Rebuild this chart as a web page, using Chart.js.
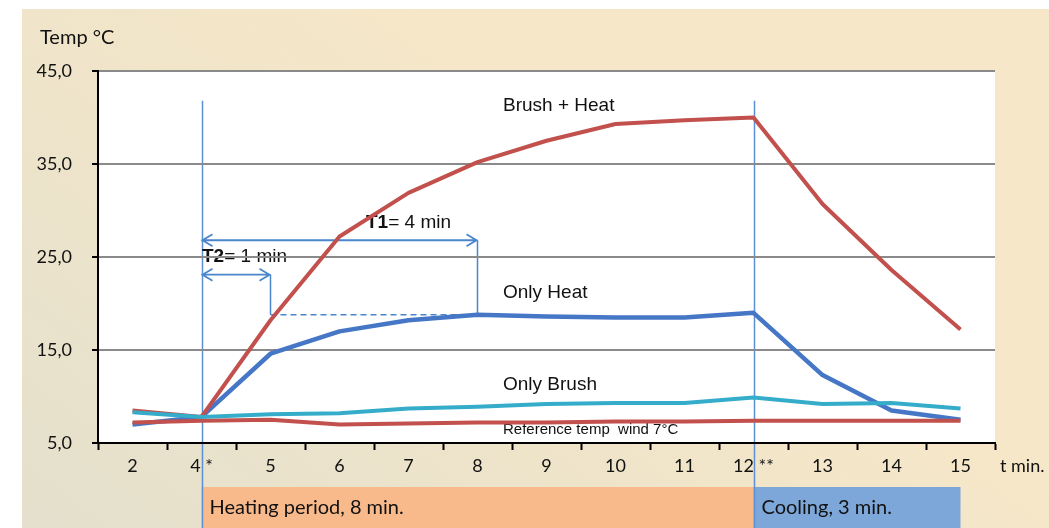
<!DOCTYPE html>
<html>
<head>
<meta charset="utf-8">
<script src="https://cdn.jsdelivr.net/npm/chart.js@4.4.0/dist/chart.umd.min.js"></script>
<style>
  html, body { margin: 0; padding: 0; background: #fff; }
  canvas { display: block; }
</style>
</head>
<body>
<canvas id="myChart" width="1049" height="528"></canvas>
<script>
// categories (minutes) and the four curves
var MINUTES = ["2","4 *","5","6","7","8","9","10","11","12 **","13","14","15"]
var BRUSH_HEAT = [8.5,7.8,18.2,27.2,31.9,35.2,37.5,39.3,39.7,40.0,30.7,23.6,17.2]
var ONLY_HEAT = [7.0,7.8,14.6,17.0,18.2,18.8,18.6,18.5,18.5,19.0,12.3,8.5,7.5]
var ONLY_BRUSH = [8.3,7.8,8.1,8.2,8.7,8.9,9.2,9.3,9.3,9.9,9.2,9.3,8.7]
var REFERENCE = [7.2,7.4,7.5,7.0,7.1,7.2,7.2,7.3,7.3,7.4,7.4,7.4,7.4]
var Y_TICKS = [5,15,25,35,45]

// periods shown under the axis (category index from / to)
var PERIOD_LABELS = ["Heating period, 8 min.","Cooling, 3 min."]
var PERIOD_FROM = [1,9]
var PERIOD_TO = [9,12]

var RED = '#c2504d'
var BLUE = '#4677c6'
var CYAN = '#35adca'
var GUIDE = '#5b8fd6'

function arrow(c, x1, x2, yy) {
  c.beginPath()
  c.moveTo(x1, yy); c.lineTo(x2, yy)
  c.moveTo(x1 + 11, yy - 6); c.lineTo(x1 + 1, yy); c.lineTo(x1 + 11, yy + 6)
  c.moveTo(x2 - 11, yy - 6); c.lineTo(x2 - 1, yy); c.lineTo(x2 - 11, yy + 6)
  c.stroke()
}

function boldThenNormal(c, bold, rest, x, yy) {
  c.font = 'bold 19px "Liberation Sans", Arial, sans-serif'
  c.fillText(bold, x, yy)
  var w = c.measureText(bold).width
  c.font = '19px "Liberation Sans", Arial, sans-serif'
  c.fillText(rest, x + w, yy)
}

var decor = {
  id: 'decor',
  beforeDraw(chart) {
    var c = chart.ctx, a = chart.chartArea, x = chart.scales.x, y = chart.scales.y
    c.save()
    // slide background
    var g = c.createLinearGradient(400, 0, 0, chart.height)
    g.addColorStop(0, '#f6e7c8')
    g.addColorStop(1, '#e4e0cd')
    c.fillStyle = g
    c.fillRect(22, 9, chart.width - 22, chart.height - 9)
    c.fillStyle = '#fff'
    c.fillRect(a.left, a.top, a.right - a.left, a.bottom - a.top)

    // period bands
    var cols = ['#f8b98b', '#7ea7d9']
    c.textBaseline = 'middle'
    c.textAlign = 'left'
    c.font = '20px Lato, sans-serif'
    for (var i = 0; i < PERIOD_LABELS.length; i++) {
      var x1 = x.getPixelForValue(PERIOD_FROM[i]), x2 = x.getPixelForValue(PERIOD_TO[i])
      c.fillStyle = cols[i]
      c.fillRect(x1, 487, x2 - x1, chart.height - 487)
      c.fillStyle = '#111'
      c.fillText(PERIOD_LABELS[i], x1 + 8, 508)
    }

    // start / stop guide lines
    c.strokeStyle = GUIDE
    c.lineWidth = 1.5
    var top = y.getPixelForValue(41.8)
    ;[1, 9].forEach(function (idx) {
      var px = Math.round(x.getPixelForValue(idx)) + 0.5
      c.beginPath(); c.moveTo(px, top); c.lineTo(px, chart.height); c.stroke()
    })

    // T1 / T2 dimension arrows
    var x0 = x.getPixelForValue(1)
    var xT2 = x.getPixelForValue(2), xT1 = x.getPixelForValue(5)
    var yT1 = y.getPixelForValue(26.8), yT2 = y.getPixelForValue(23.1)
    var yLevel = y.getPixelForValue(ONLY_HEAT[5])
    c.strokeStyle = '#4a86cc'
    c.lineWidth = 1.8
    arrow(c, x0, xT1, yT1)
    arrow(c, x0, xT2, yT2)
    c.lineWidth = 1.5
    c.beginPath()
    c.moveTo(xT1, yT1); c.lineTo(xT1, yLevel)
    c.moveTo(xT2, yT2); c.lineTo(xT2, yLevel)
    c.stroke()
    c.setLineDash([6, 4])
    c.beginPath(); c.moveTo(xT2, yLevel); c.lineTo(xT1, yLevel); c.stroke()
    c.setLineDash([])

    // curve labels
    c.fillStyle = '#111'
    boldThenNormal(c, 'T1', '= 4 min', 366, 223)
    boldThenNormal(c, 'T2', '= 1 min', 202, 257)
    c.font = '19px "Liberation Sans", Arial, sans-serif'
    c.fillText('Brush + Heat', 503, 106)
    c.fillText('Only Heat', 503, 293)
    c.fillText('Only Brush', 503, 385)
    c.font = '15px "Liberation Sans", Arial, sans-serif'
    c.fillText('Reference temp  wind 7\u00b0C', 503, 430)

    // axis titles
    c.font = '20px Lato, sans-serif'
    c.fillText('Temp \u00b0C', 40, 38)
    c.font = '18px Lato, sans-serif'
    c.fillText('t min.', 1000, 466)
    c.restore()
  }
}

var config = {
  type: 'line',
  data: {
    labels: MINUTES,
    datasets: [
      { label: 'Only Brush', data: ONLY_BRUSH, borderColor: CYAN, borderWidth: 4 },
      { label: 'Brush + Heat', data: BRUSH_HEAT, borderColor: RED, borderWidth: 4 },
      { label: 'Reference', data: REFERENCE, borderColor: RED, borderWidth: 4 },
      { label: 'Only Heat', data: ONLY_HEAT, borderColor: BLUE, borderWidth: 4.5 }
    ]
  },
  options: {
    responsive: false,
    animation: false,
    layout: { padding: { left: 0, top: 71, right: 54, bottom: 0 } },
    plugins: { legend: { display: false }, tooltip: { enabled: false } },
    elements: {
      point: { radius: 0 },
      line: { tension: 0, borderJoinStyle: 'round', fill: false }
    },
    scales: {
      x: {
        offset: true,
        grid: { offset: true, drawOnChartArea: false, tickLength: 7, tickColor: '#000', tickWidth: 2 },
        border: { color: '#000', width: 2 },
        ticks: { color: '#111', font: { family: 'Lato', size: 18 }, padding: 5, maxRotation: 0, autoSkip: false },
        afterFit: function (s) { s.height = 85 }
      },
      y: {
        min: 5,
        max: 45,
        afterBuildTicks: function (s) { s.ticks = Y_TICKS.map(function (v) { return { value: v } }) },
        grid: {
          color: function (ctx) { return ctx.tick && ctx.tick.value === 5 ? 'rgba(0,0,0,0)' : '#8a8a8a' },
          lineWidth: 2, tickLength: 6, tickColor: '#000', tickWidth: 2
        },
        border: { color: '#000', width: 2 },
        ticks: {
          color: '#111', font: { family: 'Lato', size: 18 }, padding: 20,
          callback: function (v) { return Number(v).toFixed(1).replace('.', ',') }
        },
        afterFit: function (s) { s.width = 98 }
      }
    }
  },
  plugins: [decor]
}

var myChart = new Chart(document.getElementById('myChart'), config)
</script>
</body>
</html>
